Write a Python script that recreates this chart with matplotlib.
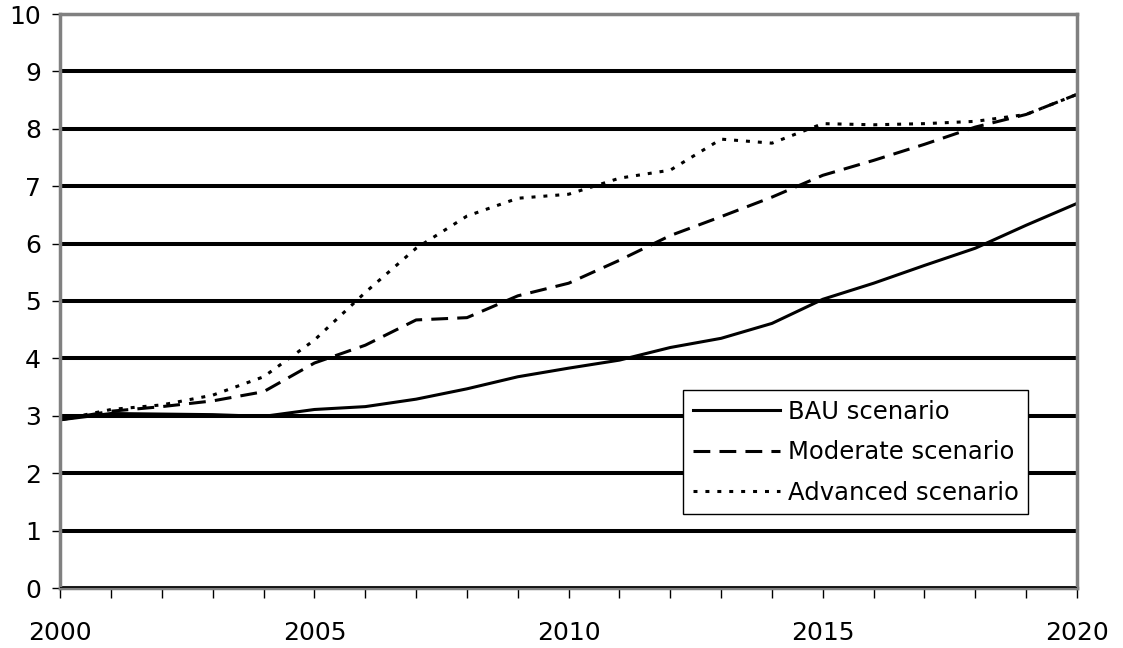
import numpy as np
import matplotlib.pyplot as plt
from matplotlib.ticker import MultipleLocator

years = np.arange(2000, 2021)

bau = [2.93, 3.04, 3.03, 3.02, 2.99, 3.11, 3.16, 3.29, 3.47, 3.68, 3.83,
       3.97, 4.19, 4.35, 4.61, 5.03, 5.31, 5.62, 5.92, 6.32, 6.70]
moderate = [2.93, 3.08, 3.16, 3.26, 3.42, 3.92, 4.23, 4.67, 4.71, 5.09, 5.31,
            5.71, 6.14, 6.47, 6.81, 7.19, 7.45, 7.73, 8.03, 8.25, 8.60]
advanced = [2.93, 3.11, 3.19, 3.36, 3.68, 4.32, 5.15, 5.92, 6.48, 6.79, 6.86,
            7.14, 7.28, 7.82, 7.75, 8.09, 8.07, 8.09, 8.13, 8.25, 8.60]

labels = ["BAU scenario", "Moderate scenario", "Advanced scenario"]

fig = plt.figure(figsize=(11.23, 6.48), dpi=100)
ax = fig.add_axes([60.3 / 1123, 60 / 648, 1016.7 / 1123, 574 / 648])

lw = 2.2
ax.plot(years, bau, color='black', linewidth=lw, label=labels[0])
ax.plot(years, moderate, color='black', linewidth=lw, dashes=(5.5, 3),
        label=labels[1])
ax.plot(years, advanced, color='black', linewidth=lw, dashes=(1.3, 2.6),
        dash_capstyle='butt', label=labels[2])

ax.set_xlim(2000, 2020)
ax.set_ylim(0, 10)
ax.xaxis.set_major_locator(MultipleLocator(5))
ax.xaxis.set_minor_locator(MultipleLocator(1))
ax.yaxis.set_major_locator(MultipleLocator(1))

ax.set_axisbelow(True)
ax.yaxis.grid(True, color='black', linewidth=2.9)
ax.axhline(0, color='black', linewidth=1.2, zorder=3)

for side in ['left', 'right', 'top', 'bottom']:
    ax.spines[side].set_color('#808080')
    ax.spines[side].set_linewidth(2.5)

ax.tick_params(axis='both', which='both', direction='out', color='black',
               width=1, labelsize=18)
ax.tick_params(axis='y', length=6, pad=8)
ax.tick_params(axis='x', which='both', length=7, pad=17)

leg = ax.legend(loc='upper right', bbox_to_anchor=(0.952, 0.345),
                fontsize=17.5, frameon=True, fancybox=False, framealpha=1,
                edgecolor='black', handlelength=3.6, handletextpad=0.3,
                borderpad=0.4, labelspacing=0.68, borderaxespad=0)
leg.get_frame().set_linewidth(1)

plt.savefig("out.png", dpi=100)
plt.close()
